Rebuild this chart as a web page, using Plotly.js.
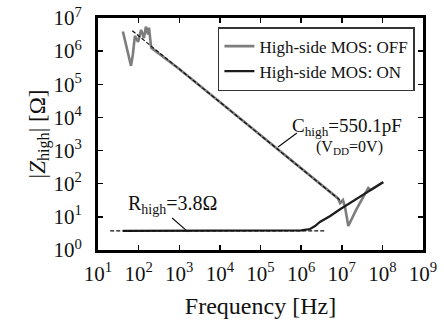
<!DOCTYPE html>
<html>
<head>
<meta charset="utf-8">
<script src="https://cdn.plot.ly/plotly-3.0.1.min.js"></script>
<style>
  html, body { margin: 0; padding: 0; background: #fff; }
  #chart { width: 444px; height: 334px; }
  svg text { font-family: 'Liberation Serif', serif !important; }
</style>
</head>
<body>
<div id="chart"></div>
<script>
// Measured impedance of the high-side switch, MOS off (capacitive) and on (resistive)
const freqOff = [41, 49, 58, 65, 72, 81, 97, 115, 135, 151, 170, 180, 204,
                 1e3, 1e4, 1e5, 1e6, 3.2e6, 8.1e6, 9.1e6, 1.07e7, 1.2e7, 1.45e7,
                 2.24e7, 3.8e7, 4.5e7, 5.2e7, 1.05e8];
const zOff = [3.9e6, 1.55e6, 5.5e5, 3.6e5, 7.8e5, 2.9e6, 1.9e6, 4.4e6, 2.5e6, 5.5e6, 3.2e6, 5.1e6, 1.26e6,
              2.9e5, 2.9e4, 2.9e3, 290, 91, 36, 26, 32, 20, 5.3,
              16, 56, 75, 65, 112];

const freqOn = [41, 1e3, 1e5, 5.4e5, 1.0e6, 1.66e6, 2.2e6, 2.9e6, 5.2e6, 9.1e6, 1.6e7, 3.8e7, 1.05e8];
const zOn = [3.8, 3.8, 3.8, 3.8, 3.9, 4.3, 5.3, 7.0, 10.6, 17, 26, 51, 112];

// Fitted models: C_high = 550.1 pF line and R_high = 3.8 ohm level
const fitCFreq = [70, 1.0e7];
const fitCZ = [4.13e6, 28.9];
const fitRFreq = [20, 3.9e6];
const fitRZ = [3.8, 3.8];

const seriesNames = ['High-side MOS: OFF', 'High-side MOS: ON'];
const xTickVals = [1e1, 1e2, 1e3, 1e4, 1e5, 1e6, 1e7, 1e8, 1e9];
const xTickText = ['10<sup>1</sup>', '10<sup>2</sup>', '10<sup>3</sup>', '10<sup>4</sup>', '10<sup>5</sup>',
                   '10<sup>6</sup>', '10<sup>7</sup>', '10<sup>8</sup>', '10<sup>9</sup>'];
const yTickVals = [1e0, 1e1, 1e2, 1e3, 1e4, 1e5, 1e6, 1e7];
const yTickText = ['10<sup>0</sup>', '10<sup>1</sup>', '10<sup>2</sup>', '10<sup>3</sup>', '10<sup>4</sup>',
                   '10<sup>5</sup>', '10<sup>6</sup>', '10<sup>7</sup>'];

const textFont = 'Liberation Serif';
const ink = '#111';

const traces = [
  { x: freqOff, y: zOff, name: seriesNames[0], mode: 'lines',
    line: { color: '#7d7d7d', width: 2.6 } },
  { x: freqOn, y: zOn, name: seriesNames[1], mode: 'lines',
    line: { color: '#1c1c1c', width: 2.2 } },
  { x: fitCFreq, y: fitCZ, mode: 'lines', showlegend: false, hoverinfo: 'skip',
    line: { color: ink, width: 1.2, dash: '4px,2px' } },
  { x: fitRFreq, y: fitRZ, mode: 'lines', showlegend: false, hoverinfo: 'skip',
    line: { color: ink, width: 1.2, dash: '4px,2px' } }
];

const axisCommon = {
  type: 'log', showgrid: false, zeroline: false,
  showline: true, linecolor: '#000', linewidth: 3, mirror: 'allticks',
  ticks: 'inside', ticklen: 5, tickwidth: 1.5, tickcolor: '#000',
  tickmode: 'array',
  tickfont: { family: textFont, size: 21, color: ink }
};

const layout = {
  width: 444, height: 334,
  margin: { l: 98, r: 21, t: 18, b: 84 },
  paper_bgcolor: '#fff', plot_bgcolor: '#fff',
  xaxis: Object.assign({}, axisCommon, {
    range: [1, 9], tickvals: xTickVals, ticktext: xTickText, ticklabelstandoff: 3,
    title: { text: 'Frequency [Hz]', font: { family: textFont, size: 24, color: ink }, standoff: 12 }
  }),
  yaxis: Object.assign({}, axisCommon, {
    range: [0, 7], tickvals: yTickVals, ticktext: yTickText, ticklabelstandoff: 9,
    title: { text: '|<i>Z</i><sub>high</sub>| [Ω]', font: { family: textFont, size: 23, color: ink }, standoff: 0 }
  }),
  showlegend: true,
  legend: {
    x: 0.369, y: 0.961, xanchor: 'left', yanchor: 'top',
    bgcolor: '#fff', bordercolor: '#333', borderwidth: 1.5,
    font: { family: textFont, size: 17, color: ink },
    tracegroupgap: 0, itemwidth: 30
  },
  annotations: [
    { xref: 'paper', yref: 'paper', x: 0.765, y: 0.53, xanchor: 'center', yanchor: 'middle', showarrow: false,
      text: 'C<sub>high</sub>=550.1pF', font: { family: textFont, size: 19, color: ink } },
    { xref: 'paper', yref: 'paper', x: 0.775, y: 0.443, xanchor: 'center', yanchor: 'middle', showarrow: false,
      text: '(V<sub>DD</sub>=0V)', font: { family: textFont, size: 16, color: ink } },
    { xref: 'paper', yref: 'paper', x: 0.228, y: 0.194, xanchor: 'center', yanchor: 'middle', showarrow: false,
      text: 'R<sub>high</sub>=3.8Ω', font: { family: textFont, size: 20, color: ink } }
  ],
  shapes: [
    { type: 'line', xref: 'paper', yref: 'paper', x0: 0.612, y0: 0.504, x1: 0.554, y1: 0.444,
      line: { color: ink, width: 1.2 } },
    { type: 'line', xref: 'paper', yref: 'paper', x0: 0.228, y0: 0.138, x1: 0.277, y1: 0.078,
      line: { color: ink, width: 1.2 } }
  ]
};

Plotly.newPlot('chart', traces, layout, { staticPlot: true, displayModeBar: false });
</script>
</body>
</html>
